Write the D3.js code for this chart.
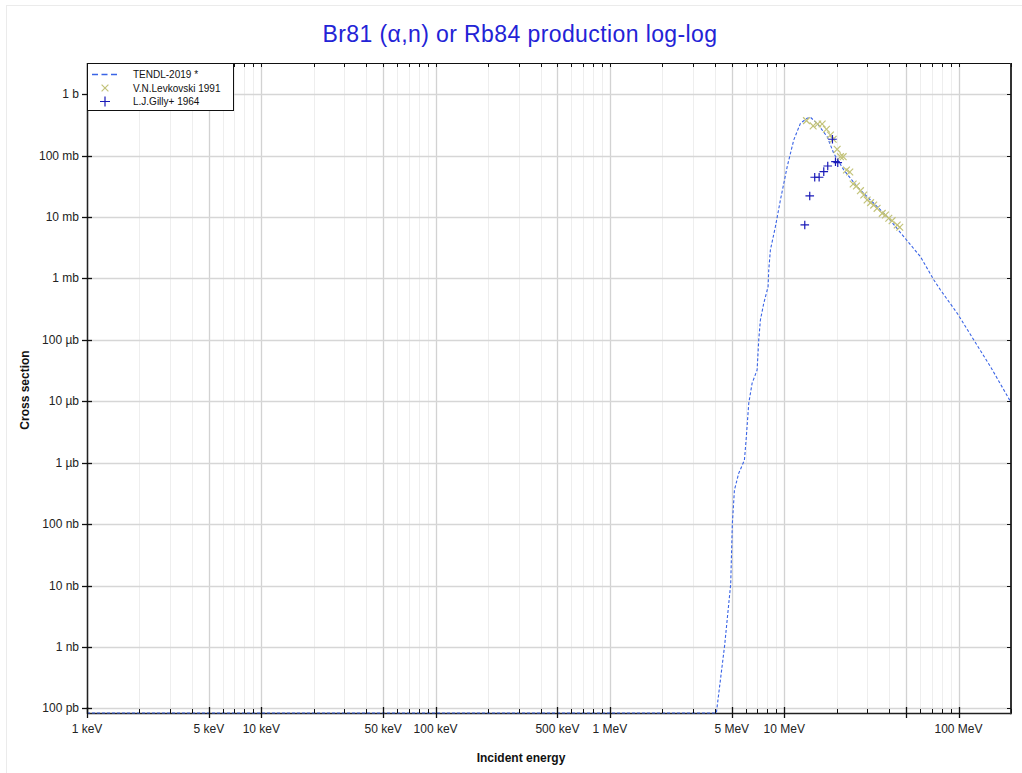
<!DOCTYPE html>
<html>
<head>
<meta charset="utf-8">
<script src="https://cdn.jsdelivr.net/npm/d3@7"></script>
<style>
  html, body { margin: 0; padding: 0; background: #fff; }
  svg { display: block; font-family: "Liberation Sans", Arial, sans-serif; }
</style>
</head>
<body>
<svg id="chart" width="1022" height="773"></svg>
<script>
// ---------------- data (energy in MeV, cross section in mb) ----------------
const tendlE  = [0.001, 4.08, 4.55, 4.93, 5.04, 5.18, 5.48, 5.91, 6.04, 6.26, 6.54, 6.99, 7.14, 7.30, 7.63, 8.08, 8.15, 8.33, 8.90, 9.51, 10.4, 11.34, 12.39, 13.54, 14.13, 15.45, 17.63, 19.24, 21.97, 26.2, 32.6, 39.0, 48.5, 60.5, 72.2, 78.8, 98.3, 122.4, 152.6, 198.9];
const tendlXS = [0, 0, 1.05e-6, 1.05e-5, 1.03e-4, 3.6e-4, 6.7e-4, 1.1e-3, 2.3e-3, 9.3e-3, 0.0196, 0.0324, 0.0996, 0.211, 0.394, 0.735, 1.37, 2.91, 6.98, 19.0, 66.2, 180, 337, 407, 422, 337, 204, 109, 58.5, 31.3, 16.8, 10.2, 4.80, 2.26, 0.946, 0.65, 0.271, 0.0996, 0.0366, 0.00985];

const levE  = [13.42, 14.65, 15.57, 16.51, 17.47, 18.42, 19.09, 20.12, 21.02, 21.78, 22.76, 23.77, 24.86, 25.97, 27.37, 28.6, 29.9, 31.3, 32.6, 34.1, 36.5, 38.1, 39.8, 41.6, 44.5, 46.0];
const levXS = [372, 305, 328, 328, 269, 217, 185, 127, 96.3, 96.3, 58.5, 54.3, 34.6, 32.1, 26.9, 22.9, 19.0, 17.2, 15.7, 13.9, 11.5, 10.8, 9.56, 8.74, 7.44, 6.82];

const gilE  = [13.12, 14.01, 14.96, 15.86, 16.86, 17.77, 18.91, 19.68, 20.28];
const gilXS = [7.44, 22.1, 44.5, 44.5, 54.9, 67.9, 185, 79.8, 76.9];

const seriesNames = ["TENDL-2019 *", "V.N.Levkovski 1991", "L.J.Gilly+ 1964"];

// tick values (eV / barn) and labels
const xTickVals   = [1e3, 5e3, 1e4, 5e4, 1e5, 5e5, 1e6, 5e6, 1e7, 5e7, 1e8];
const xTickLabels = ["1 keV", "5 keV", "10 keV", "50 keV", "100 keV", "500 keV", "1 MeV", "5 MeV", "10 MeV", "", "100 MeV"];
const yTickVals   = [1, 1e-1, 1e-2, 1e-3, 1e-4, 1e-5, 1e-6, 1e-7, 1e-8, 1e-9, 1e-10];
const yTickLabels = ["1 b", "100 mb", "10 mb", "1 mb", "100 µb", "10 µb", "1 µb", "100 nb", "10 nb", "1 nb", "100 pb"];

const titleText = "Br81 (α,n) or Rb84 production log-log";
const xTitle = "Incident energy";
const yTitle = "Cross section";

// ---------------- layout ----------------
const L = 87, R = 1011, T = 63, B = 713;
const svg = d3.select("#chart");

const x = d3.scaleLog().domain([1e3, 2e8]).range([L, R]).clamp(true);
const y = d3.scaleLog().domain([8.4e-11, 3.23]).range([B, T]).clamp(true);

const toX = e => x(e * 1e6);
const toY = s => y(s / 1000);

// faint outer border (left/top visible)
svg.append("line").attr("x1", 6.5).attr("x2", 6.5).attr("y1", 5).attr("y2", 773).attr("stroke", "#ebebeb");
svg.append("line").attr("x1", 6).attr("x2", 1022).attr("y1", 5.5).attr("y2", 5.5).attr("stroke", "#ebebeb");

// grid lines
const allX = [];
for (let d = 1e3; d <= 1e8; d *= 10) for (let m = 1; m <= 9; m++) { const v = m * d; if (v <= 2e8) allX.push(v); }
const grid = svg.append("g");
grid.selectAll(".gx").data(allX).enter().append("line")
  .attr("x1", d => Math.round(x(d)) + 0.5).attr("x2", d => Math.round(x(d)) + 0.5)
  .attr("y1", T).attr("y2", B)
  .attr("stroke", d => xTickVals.includes(d) ? "#d2d2d2" : "#eeeeee")
  .attr("stroke-width", d => xTickVals.includes(d) ? 1.3 : 1);
grid.selectAll(".gy").data(yTickVals).enter().append("line")
  .attr("x1", L).attr("x2", R)
  .attr("y1", d => Math.round(y(d)) + 0.5).attr("y2", d => Math.round(y(d)) + 0.5)
  .attr("stroke", "#d6d6d6").attr("stroke-width", 1.3);

// ---------------- data marks ----------------
svg.append("clipPath").attr("id", "clip").append("rect")
  .attr("x", L).attr("y", T - 1).attr("width", R - L).attr("height", B - T + 2);

const tendl = tendlE.map((e, i) => [e, tendlXS[i]]);
const lev = levE.map((e, i) => [e, levXS[i]]);
const gil = gilE.map((e, i) => [e, gilXS[i]]);

const tendlColor = "#3a64e6";
const levColor = "#c3c37a";
const gilColor = "#1a1ab8";

// axes lines
const axes = svg.append("g");
axes.append("line").attr("x1", L).attr("x2", R).attr("y1", B + 0.5).attr("y2", B + 0.5).attr("stroke", "#222").attr("stroke-width", 1.5);
axes.append("line").attr("x1", L).attr("x2", R).attr("y1", T + 0.5).attr("y2", T + 0.5).attr("stroke", "#111").attr("stroke-width", 1);
axes.append("line").attr("x1", L + 0.5).attr("x2", L + 0.5).attr("y1", T).attr("y2", B + 1).attr("stroke", "#222").attr("stroke-width", 1.5);
axes.append("line").attr("x1", R).attr("x2", R).attr("y1", T).attr("y2", B + 1.2).attr("stroke", "#333").attr("stroke-width", 2);

const plot = svg.append("g").attr("clip-path", "url(#clip)");
const line = d3.line().x(d => toX(d[0])).y(d => toY(d[1]));

plot.append("path").datum(tendl).attr("d", line)
  .attr("fill", "none").attr("stroke", tendlColor).attr("stroke-width", 1.1)
  .attr("stroke-dasharray", "3,2");

// Levkovski: x markers
plot.selectAll(".lev").data(lev).enter().append("path")
  .attr("d", d => { const cx = toX(d[0]), cy = toY(d[1]), r = 3.4; return `M${cx-r},${cy-r}L${cx+r},${cy+r}M${cx-r},${cy+r}L${cx+r},${cy-r}`; })
  .attr("stroke", levColor).attr("stroke-width", 1.2).attr("fill", "none");

// Gilly: + markers
plot.selectAll(".gil").data(gil).enter().append("path")
  .attr("d", d => { const cx = toX(d[0]), cy = toY(d[1]), r = 4.3; return `M${cx-r},${cy}L${cx+r},${cy}M${cx},${cy-r}L${cx},${cy+r}`; })
  .attr("stroke", gilColor).attr("stroke-width", 1.2).attr("fill", "none");

// ---------------- ticks ----------------
const ticks = svg.append("g").attr("stroke", "#111").attr("stroke-width", 1);
allX.forEach(v => {
  const px = Math.round(x(v)) + 0.5;
  const major = xTickVals.includes(v);
  ticks.append("line").attr("x1", px).attr("x2", px)
    .attr("y1", B - (major ? 6 : 4)).attr("y2", B + (major ? 5 : 0))
    .attr("stroke-width", major ? 1.3 : 1);
  ticks.append("line").attr("x1", px).attr("x2", px).attr("y1", T).attr("y2", T + 4);
});
yTickVals.forEach(v => {
  const py = Math.round(y(v)) + 0.5;
  ticks.append("line").attr("x1", L - 5).attr("x2", L + 5).attr("y1", py).attr("y2", py).attr("stroke-width", 1.3);
  ticks.append("line").attr("x1", R - 4).attr("x2", R).attr("y1", py).attr("y2", py);
});

// tick labels
const labels = svg.append("g").attr("font-size", 12).attr("fill", "#222");
xTickVals.forEach((v, i) => {
  if (!xTickLabels[i]) return;
  labels.append("text").attr("x", x(v)).attr("y", B + 20).attr("text-anchor", "middle").text(xTickLabels[i]);
});
yTickVals.forEach((v, i) => {
  labels.append("text").attr("x", L - 8).attr("y", y(v) + 4).attr("text-anchor", "end").text(yTickLabels[i]);
});

// axis titles
svg.append("text").attr("x", 521).attr("y", 762).attr("text-anchor", "middle")
  .attr("font-size", 12).attr("font-weight", "bold").attr("fill", "#111").text(xTitle);
svg.append("text").attr("transform", "translate(29,390) rotate(-90)").attr("text-anchor", "middle")
  .attr("font-size", 12).attr("font-weight", "bold").attr("fill", "#111").text(yTitle);

// title
svg.append("text").attr("x", 520).attr("y", 41.5).attr("text-anchor", "middle")
  .attr("font-size", 23).attr("letter-spacing", 0.4).attr("fill", "#2323d6").text(titleText);

// ---------------- legend ----------------
const lg = svg.append("g");
lg.append("rect").attr("x", 87.5).attr("y", 63.5).attr("width", 146).attr("height", 47)
  .attr("fill", "#fff").attr("stroke", "#111").attr("stroke-width", 1);
const rowsY = [74.5, 88, 101.5];
lg.append("line").attr("x1", 92).attr("x2", 118).attr("y1", rowsY[0]).attr("y2", rowsY[0])
  .attr("stroke", tendlColor).attr("stroke-width", 1.5).attr("stroke-dasharray", "6,3.5");
{
  const cx = 105, cy = rowsY[1], r = 3.4;
  lg.append("path").attr("d", `M${cx-r},${cy-r}L${cx+r},${cy+r}M${cx-r},${cy+r}L${cx+r},${cy-r}`)
    .attr("stroke", levColor).attr("stroke-width", 1.2);
}
{
  const cx = 105, cy = rowsY[2], r = 5;
  lg.append("path").attr("d", `M${cx-r},${cy}L${cx+r},${cy}M${cx},${cy-r}L${cx},${cy+r}`)
    .attr("stroke", gilColor).attr("stroke-width", 1.2);
}
seriesNames.forEach((n, i) => {
  lg.append("text").attr("x", 133).attr("y", rowsY[i] + 3.5).attr("font-size", 10).attr("fill", "#111").text(n);
});
</script>
</body>
</html>
